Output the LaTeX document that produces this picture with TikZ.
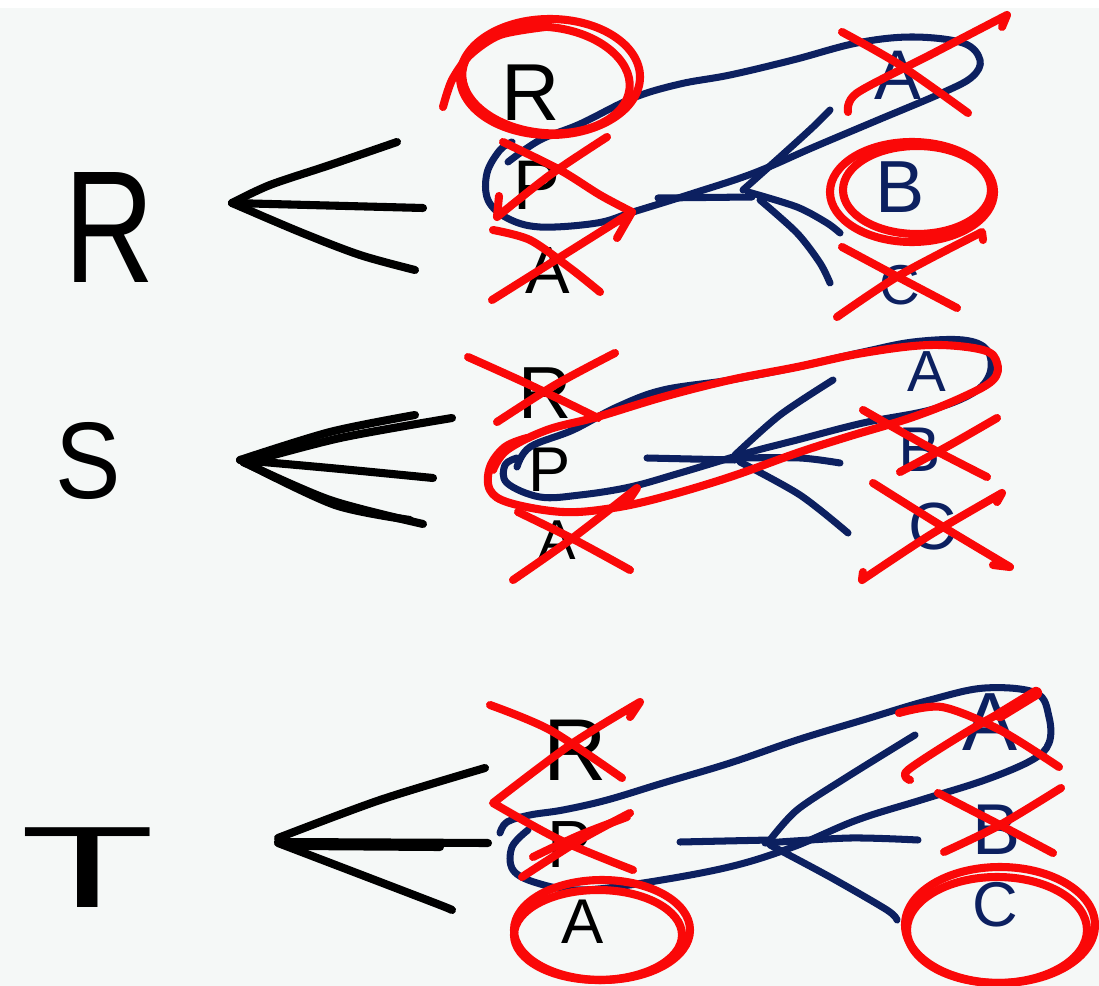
\documentclass[tikz,border=0pt]{standalone}
\usepackage{fontspec}
\setmainfont{Liberation Sans}
\definecolor{navyink}{RGB}{12,32,96}
\definecolor{redink}{RGB}{250,8,8}
\definecolor{board}{RGB}{245,248,247}
\newcommand{\fsz}[1]{\fontsize{#1}{#1}\selectfont}
\tikzset{
  blk/.style={line width=4.6pt, black, line cap=round, line join=round},
  nav/.style={line width=4pt, navyink, line cap=round, line join=round},
  rd/.style={line width=4.6pt, redink, line cap=round, line join=round},
  ltr/.style={inner sep=0pt, text=black},
  nltr/.style={inner sep=0pt, text=navyink},
}
\begin{document}
\begin{tikzpicture}[x=0.02cm, y=-0.02cm]
\useasboundingbox (0,0) rectangle (1099,986);
\fill[board] (0,0) rectangle (1099,986);
\fill[white] (0,0) rectangle (1099,8);

% ================= Section R =================
\node[ltr] (bigR) at (110,228) {\fsz{91}\scalebox{0.78}[1]{R}};
\draw[blk] plot[smooth] coordinates {(397,142) (330,165) (270,185) (232,203)};
\draw[blk] (232,203) -- (423,208);
\draw[blk] plot[smooth] coordinates {(232,203) (300,232) (360,255) (415,270)};

\node[ltr] (r1R) at (531,93) {\fsz{46}R};
\node[ltr] (r1P) at (537,185) {\fsz{40}P};
\node[ltr] (r1A) at (548,271) {\fsz{38}A};
\node[nltr] (r1a) at (898,75) {\fsz{40}A};
\node[nltr] (r1b) at (900,187) {\fsz{42}B};
\node[nltr] (r1c) at (900,285) {\fsz{32}C};

\draw[nav] plot[smooth, tension=0.6] coordinates {(508,162) (540,140) (580,124) (633,98) (680,84) (730,75) (793,60) (857,43) (912,37) (963,43) (980,60) (972,77) (942,93) (878,120) (814,147) (754,173) (694,193) (633,212) (597,223) (540,227) (507,218) (488,200) (487,173) (500,150) (512,142)};
\draw[nav] (658,198) -- (752,197);
\draw[nav] plot[smooth] coordinates {(743,190) (780,157) (813,127) (830,110)};
\draw[nav] plot[smooth] coordinates {(748,192) (797,207) (827,223) (840,233)};
\draw[nav] plot[smooth] coordinates {(760,200) (797,233) (820,263) (830,283)};

\draw[rd] (550,77) ellipse [x radius=90, y radius=58];
\draw[rd, rotate around={-6:(546,80)}] (546,80) ellipse [x radius=84, y radius=53];
\draw[rd] plot[smooth] coordinates {(443,107) (452,80) (470,55) (500,35) (545,27)};
\draw[rd] plot[smooth] coordinates {(503,142) (560,170) (600,195) (632,212)};
\draw[rd] plot[smooth] coordinates {(607,137) (550,175) (497,217)} -- (499,196);
\draw[rd] plot[smooth] coordinates {(493,230) (530,240) (570,268) (600,292)};
\draw[rd] (492,300) -- (632,212) -- (617,238);
\draw[rd] plot[smooth] coordinates {(842,32) (900,65) (968,113)};
\draw[rd] plot[smooth] coordinates {(848,112) (857,93) (930,55) (1007,15)} -- (1002,27);
\draw[rd] (912,192) ellipse [x radius=82, y radius=50];
\draw[rd] (917,190) ellipse [x radius=74, y radius=44];
\draw[rd] plot[smooth] coordinates {(842,247) (900,278) (957,308)};
\draw[rd] plot[smooth] coordinates {(837,317) (900,275) (982,232)} -- (983,240);

% ================= Section S =================
\node[ltr] (bigS) at (88,461) {\fsz{62}\scalebox{0.9}[1]{S}};
\draw[blk] plot[smooth] coordinates {(240,460) (330,432) (415,415)};
\draw[blk] plot[smooth] coordinates {(245,463) (340,438) (452,418)};
\draw[blk] plot[smooth] coordinates {(240,460) (330,468) (433,478)};
\draw[blk] plot[smooth] coordinates {(243,462) (330,500) (423,524)};
\draw[blk] plot[smooth] coordinates {(250,465) (335,505) (410,520)};

\node[ltr] (r2R) at (545,393) {\fsz{42}R};
\node[ltr] (r2P) at (550,470) {\fsz{36}P};
\node[ltr] (r2A) at (557,540) {\fsz{32}A};
\node[nltr] (r2a) at (927,372) {\fsz{33}A};
\node[nltr] (r2b) at (920,450) {\fsz{36}B};
\node[nltr] (r2c) at (933,527) {\fsz{38}C};

\draw[nav] plot[smooth, tension=0.6] coordinates {(517,467) (530,447) (573,430) (617,407) (663,390) (730,380) (797,367) (863,352) (913,342) (963,340) (987,350) (990,373) (973,393) (930,410) (863,423) (797,440) (747,453) (680,473) (630,487) (580,495) (540,497) (507,483) (505,465) (517,458)};
\draw[nav] (647,458) -- (735,460);
\draw[nav] plot[smooth] coordinates {(735,455) (780,415) (833,380)};
\draw[nav] plot[smooth] coordinates {(735,458) (800,458) (840,463)};
\draw[nav] plot[smooth] coordinates {(740,462) (800,495) (848,533)};

\draw[rd] plot[smooth, tension=0.6] coordinates {(527,438) (505,447) (490,467) (490,490) (510,503) (563,512) (613,508) (663,497) (730,477) (797,453) (847,437) (913,417) (963,397) (993,380) (997,363) (983,350) (930,345) (863,353) (797,367) (730,380) (663,397) (597,417) (547,430) (507,450) (493,470)};
\draw[rd] plot[smooth] coordinates {(468,357) (530,385) (598,418)};
\draw[rd] plot[smooth] coordinates {(497,422) (555,385) (615,353)};
\draw[rd] plot[smooth] coordinates {(518,512) (575,540) (630,570)};
\draw[rd] plot[smooth] coordinates {(513,580) (570,540) (637,488)} -- (627,503);
\draw[rd] plot[smooth] coordinates {(863,410) (925,445) (987,477)};
\draw[rd] plot[smooth] coordinates {(900,472) (950,445) (997,418)};
\draw[rd] plot[smooth] coordinates {(873,483) (940,525) (1010,567)} -- (993,565);
\draw[rd] (863,572) -- plot[smooth] coordinates {(862,580) (930,535) (1002,493)} -- (997,502);

% ================= Section T =================
\node[ltr] (bigT) at (88,868) {\fsz{66}\scalebox{1.9}[1]{T}};
\draw[blk] plot[smooth] coordinates {(278,838) (380,800) (485,768)};
\draw[blk] (278,842) -- (488,843);
\draw[blk] (300,846) -- (440,847);
\draw[blk] plot[smooth] coordinates {(278,843) (367,877) (440,905) (452,910)};

\node[ltr] (r3R) at (575,750) {\fsz{50}R};
\node[ltr] (r3P) at (570,845) {\fsz{38}P};
\node[ltr] (r3A) at (583,922) {\fsz{36}A};
\node[nltr] (r3a) at (990,722) {\fsz{47}A};
\node[nltr] (r3b) at (997,830) {\fsz{41}B};
\node[nltr] (r3c) at (995,905) {\fsz{36}C};

\draw[nav] plot[smooth, tension=0.6] coordinates {(500,833) (507,822) (530,815) (563,810) (607,800) (663,783) (730,763) (797,740) (863,720) (930,700) (985,688) (1036,693) (1049,717) (1049,743) (1032,760) (985,780) (921,800) (857,820) (793,847) (729,867) (643,883) (579,890) (537,883) (513,870) (512,847) (528,830)};
\draw[nav] (680,842) -- (770,840);
\draw[nav] plot[smooth] coordinates {(765,843) (850,838) (918,840)};
\draw[nav] plot[smooth] coordinates {(770,840) (797,810) (847,777) (915,735)};
\draw[nav] plot[smooth] coordinates {(770,845) (830,877) (887,910) (897,920)};

\draw[rd] plot[smooth] coordinates {(490,705) (550,730) (622,778)};
\draw[rd] (630,717) -- plot[smooth] coordinates {(640,702) (570,745) (493,803)} -- plot[smooth] coordinates {(493,803) (560,840) (633,870)};
\draw[rd] plot[smooth] coordinates {(522,877) (580,840) (630,813)};
\draw[rd] plot[smooth] coordinates {(533,857) (580,835) (627,817)};
\draw[rd] (602,930) ellipse [x radius=88, y radius=50];
\draw[rd] (598,935) ellipse [x radius=84, y radius=45];
\draw[rd] plot[smooth] coordinates {(899,713) (942,707) (1000,730) (1059,767)};
\draw[rd] plot[smooth] coordinates {(910,780) (908,770) (970,730) (1036,693)};
\draw[rd, line width=7pt] (1000,715) -- (1036,693);
\draw[rd] plot[smooth] coordinates {(938,793) (1000,825) (1053,853)};
\draw[rd] plot[smooth] coordinates {(944,852) (1000,825) (1061,788)};
\draw[rd] (1000,925) ellipse [x radius=95, y radius=58];
\draw[rd] (997,930) ellipse [x radius=90, y radius=53];
\end{tikzpicture}
\end{document}
